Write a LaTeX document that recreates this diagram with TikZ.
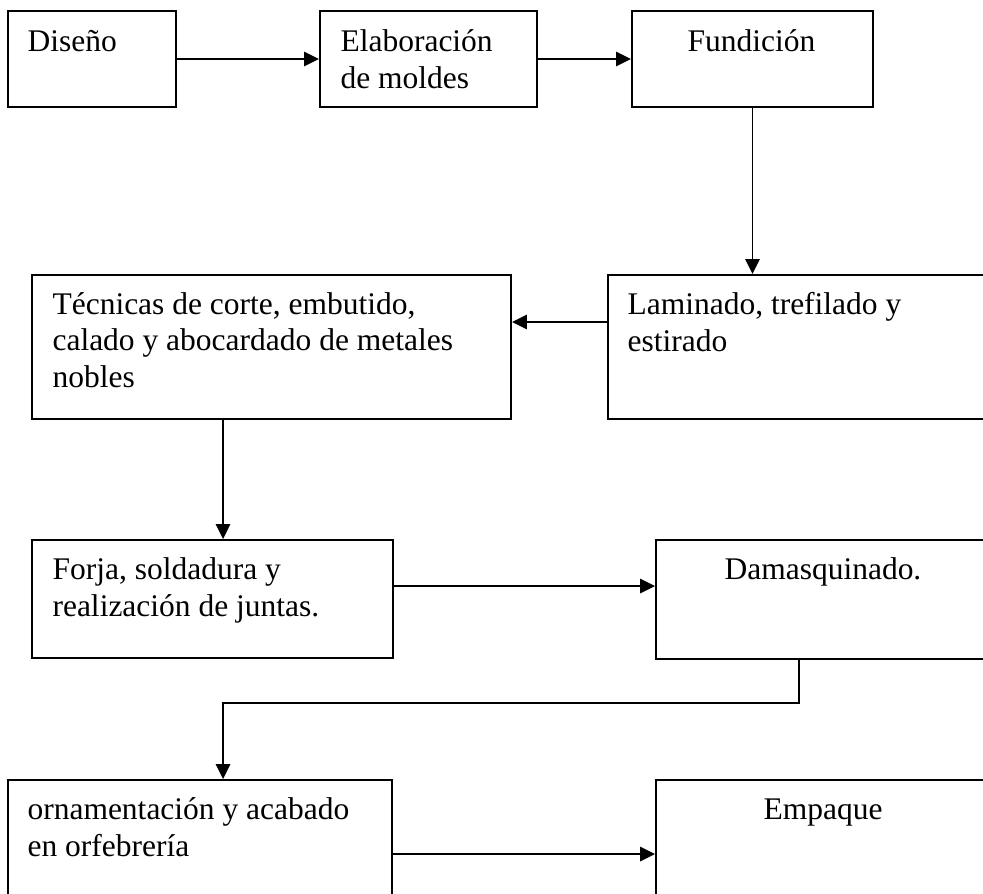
\documentclass[tikz,border=0pt]{standalone}
\usepackage{fontspec}
\setmainfont{Liberation Serif}
\usetikzlibrary{arrows.meta,positioning,fit,calc}
\tikzset{box/.style={draw,line width=0.75pt,inner sep=0pt,rectangle}}
\tikzset{txt/.style={inner sep=0pt,align=left,anchor=base west,font=\fontsize{12}{14}\selectfont}}
\tikzset{ctxt/.style={txt}}
\tikzset{arrow/.style={draw,line width=0.65pt,-{Triangle[length=5.7pt,width=5.5pt]}}}

\begin{document}
\begin{tikzpicture}[x=0.381pt,y=-0.381pt]
    \useasboundingbox (0,0) rectangle (983,893);
    \clip (0,0) rectangle (983,893);

    \node[box,fit={(8,11) (176,107)}] (diseno) {};
    \node[box,fit={(320,11) (537,107)}] (elab) {};
    \node[box,fit={(632,11) (873,107)}] (fund) {};
    \node[box,fit={(608,275) (1010,419)}] (lam) {};
    \node[box,fit={(32,275) (511,419)}] (tec) {};
    \node[box,fit={(32,540) (393,658)}] (forja) {};
    \node[box,fit={(656,540) (1010,659)}] (dam) {};
    \node[box,fit={(8,780) (392,920)}] (orn) {};
    \node[box,fit={(656,780) (1010,920)}] (emp) {};

     % base = baseline of the last line
     \node[txt] (t-diseno) at ($(diseno.north west)+(20,41)$) {Diseño};
     \node[txt] (t-elab) at ($(elab.north west)+(21,78)$) {Elaboración\\de moldes};
     \node[ctxt] (t-fund) at ($(fund.north west)+(56,41)$) {Fundición};
     \node[txt] (t-lam) at ($(lam.north west)+(20,77)$) {Laminado, trefilado y\\estirado};
     \node[txt] (t-tec) at ($(tec.north west)+(21,113.5)$) {Técnicas de corte, embutido,\\calado y abocardado de metales\\nobles};
     \node[txt] (t-forja) at ($(forja.north west)+(21,77)$) {Forja, soldadura y\\realización de juntas.};
     \node[ctxt] (t-dam) at ($(dam.north west)+(69,40)$) {Damasquinado.};
     \node[txt] (t-orn) at ($(orn.north west)+(20,77)$) {ornamentación y acabado\\en orfebrería};
     \node[ctxt] (t-emp) at ($(emp.north west)+(108,40)$) {Empaque};

        \path[arrow] (diseno.east) -- (elab.west);
        \path[arrow] (elab.east) -- (fund.west);
        \path[arrow] (fund.south) -- (fund.south |- lam.north);
        \path[arrow] ($(lam.north west)+(0,48)$) -- ($(tec.north east)+(0,48)$);
        \path[arrow] ($(tec.south west)+(192,0)$) -- ($(forja.north west)+(192,0)$);
        \path[arrow] ($(forja.north east)+(0,47)$) -- ($(dam.north west)+(0,47)$);
        \path[arrow] ($(dam.south west)+(144,0)$) -- ++(0,43) -| ($(orn.north west)+(216,0)$);
        \path[arrow] ($(orn.north east)+(0,75)$) -- ($(emp.north west)+(0,75)$);
  \end{tikzpicture}
\end{document}
